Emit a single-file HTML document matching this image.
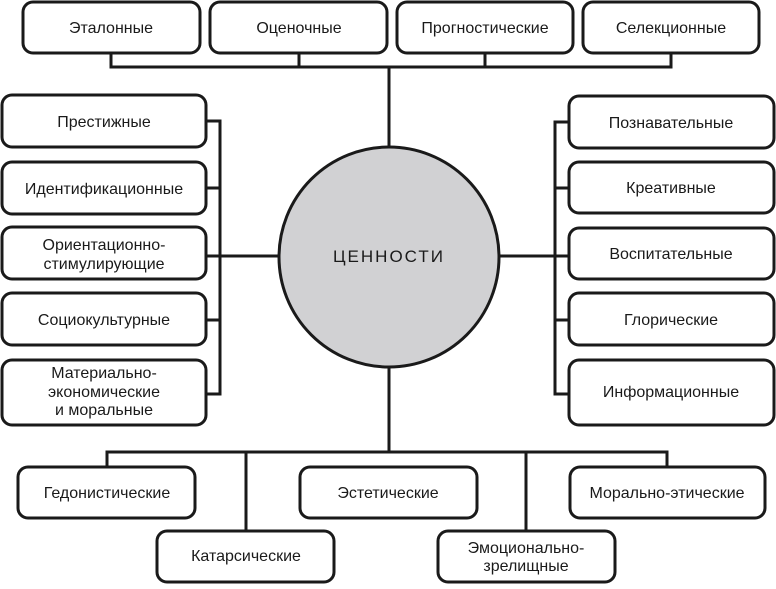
<!DOCTYPE html>
<html><head><meta charset="utf-8"><style>
body{margin:0;background:#fff;width:776px;height:584px;overflow:hidden}
svg text{font-family:"Liberation Sans","DejaVu Sans",sans-serif;font-size:16px;fill:#1a1a1a;text-anchor:middle}
</style></head><body>
<svg width="776" height="584" viewBox="0 0 776 584" xmlns="http://www.w3.org/2000/svg">
<g stroke="#1a1a1a" stroke-width="3" fill="none">
<path d="M111 53V67H671V53M299 53V67M485 53V67M389 67V146"/>
<path d="M206 121H220V394H206M206 188H220M206 320H220M206 256H280"/>
<path d="M569 122H555V394H569M569 188H555M569 320H555M500 256H569"/>
<path d="M389 368V452M107 467V452H667V467M246 452V531M526 452V531"/>
</g>
<circle cx="389" cy="257" r="110" fill="#d1d1d3" stroke="#1a1a1a" stroke-width="3"/>
<text x="389" y="262" style="font-size:17px;letter-spacing:2px">ЦЕННОСТИ</text>
<g fill="#fff" stroke="#1a1a1a" stroke-width="3">
<rect x="23" y="2" width="177" height="51" rx="10"/>
<rect x="210" y="2" width="177" height="51" rx="10"/>
<rect x="397" y="2" width="176" height="51" rx="10"/>
<rect x="583" y="2" width="176" height="51" rx="10"/>
<rect x="2" y="95" width="204" height="52" rx="10"/>
<rect x="2" y="162" width="204" height="52" rx="10"/>
<rect x="2" y="227" width="204" height="52" rx="10"/>
<rect x="2" y="293" width="204" height="52" rx="10"/>
<rect x="2" y="360" width="204" height="65" rx="10"/>
<rect x="569" y="96" width="205" height="52" rx="10"/>
<rect x="569" y="162" width="205" height="51" rx="10"/>
<rect x="569" y="228" width="205" height="51" rx="10"/>
<rect x="569" y="293" width="205" height="52" rx="10"/>
<rect x="569" y="360" width="205" height="65" rx="10"/>
<rect x="18" y="467" width="177" height="51" rx="10"/>
<rect x="300" y="467" width="177" height="51" rx="10"/>
<rect x="570" y="467" width="195" height="51" rx="10"/>
<rect x="157" y="531" width="177" height="51" rx="10"/>
<rect x="438" y="531" width="177" height="51" rx="10"/>
</g>
<text x="111" y="33">Эталонные</text>
<text x="299" y="33">Оценочные</text>
<text x="485" y="33">Прогностические</text>
<text x="671" y="33">Селекционные</text>
<text x="104" y="127">Престижные</text>
<text x="104" y="194">Идентификационные</text>
<text x="104" y="250">Ориентационно-</text>
<text x="104" y="269">стимулирующие</text>
<text x="104" y="325">Социокультурные</text>
<text x="104" y="378">Материально-</text>
<text x="104" y="397">экономические</text>
<text x="104" y="415">и моральные</text>
<text x="671" y="128">Познавательные</text>
<text x="671" y="193">Креативные</text>
<text x="671" y="259">Воспитательные</text>
<text x="671" y="325">Глорические</text>
<text x="671" y="397">Информационные</text>
<text x="107" y="498">Гедонистические</text>
<text x="388" y="498">Эстетические</text>
<text x="667" y="498">Морально-этические</text>
<text x="246" y="561">Катарсические</text>
<text x="526" y="553">Эмоционально-</text>
<text x="526" y="571">зрелищные</text>
</svg>
</body></html>
